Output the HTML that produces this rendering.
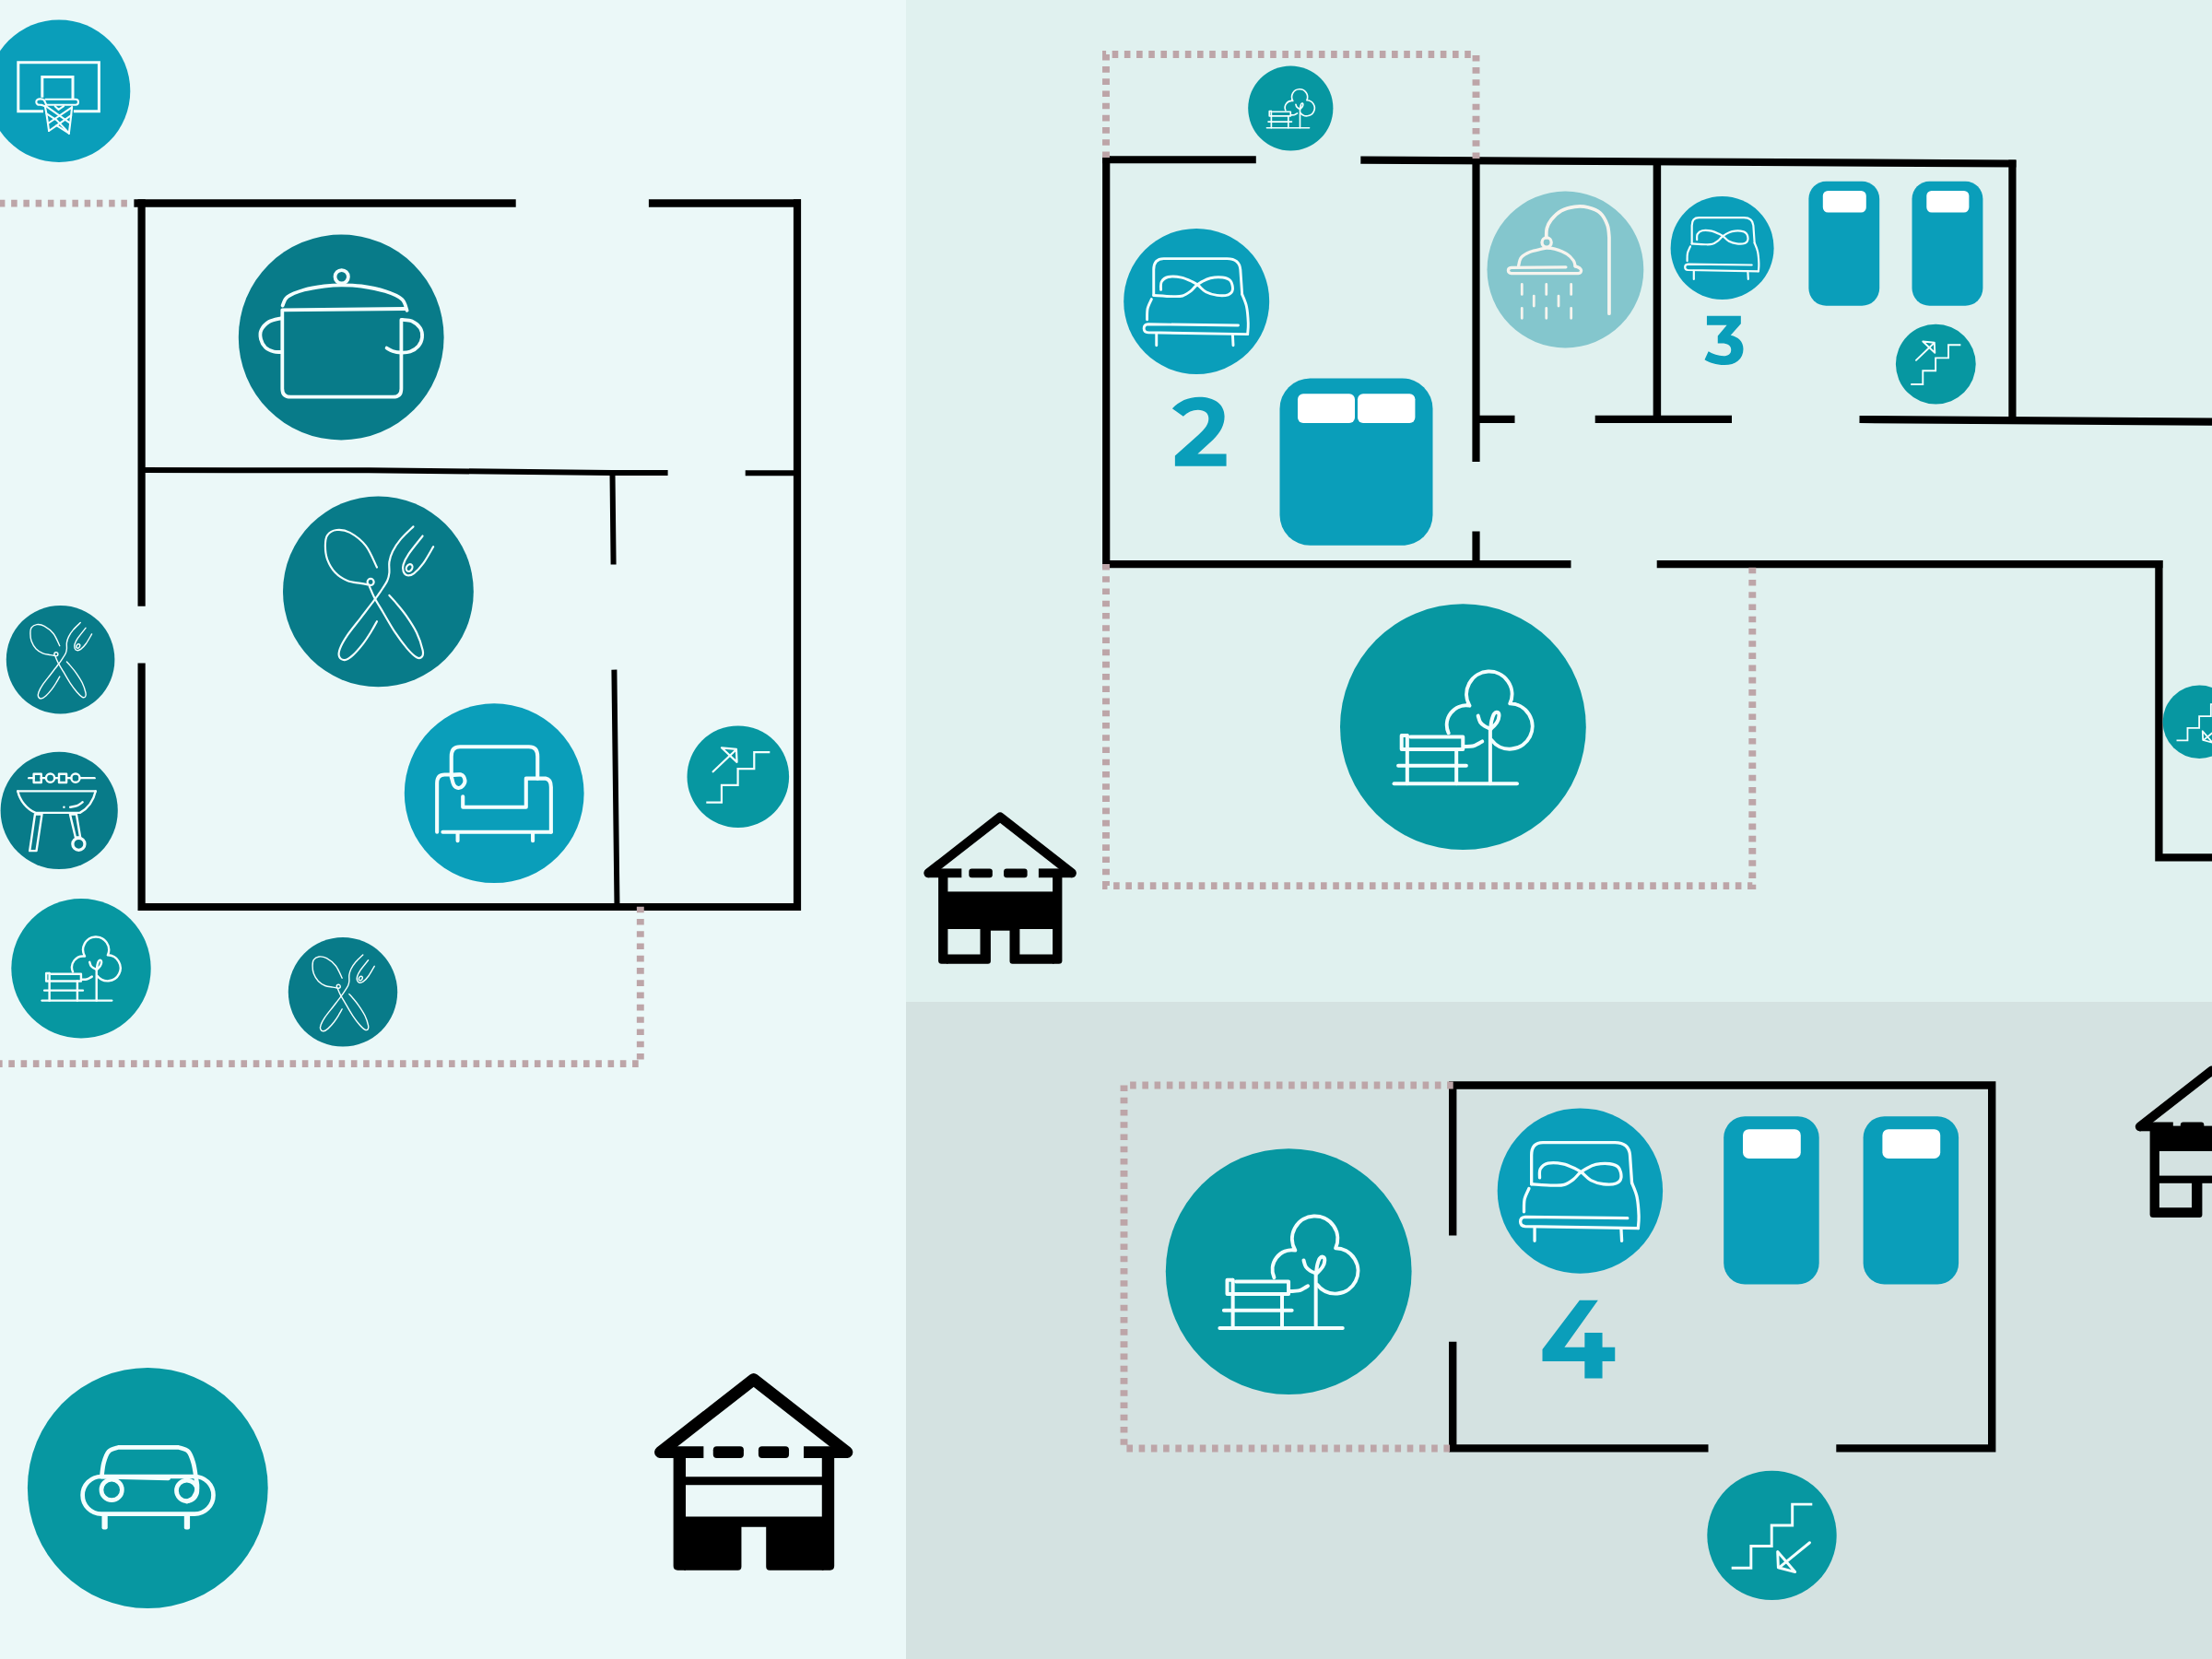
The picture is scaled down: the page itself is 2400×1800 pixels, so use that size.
<!DOCTYPE html>
<html><head><meta charset="utf-8"><title>Floor plan</title>
<style>html,body{margin:0;padding:0;background:#ebf8f8;font-family:"Liberation Sans",sans-serif}svg{display:block}</style>
</head><body>
<svg width="2400" height="1800" viewBox="0 0 2400 1800">
<rect width="2400" height="1800" fill="#ebf8f8"/>
<rect x="983" y="0" width="1417" height="1087" fill="#e0f1ef"/>
<rect x="983" y="1087" width="1417" height="713" fill="#d4e2e1"/>
<path d="M145.4 220.5H559.7M703.9 220.5H869" fill="none" stroke="#000" stroke-width="8.5"/>
<path d="M153.6 216.2V657.8M153.6 719.5V988M865 216.2V988M149.5 984H869.1" fill="none" stroke="#000" stroke-width="8.2"/>
<path d="M153.6 510.1L400 510.3L663.5 512.9L724.6 513.1M808.7 513.2H861" fill="none" stroke="#000" stroke-width="6"/>
<path d="M664.5 513L665.6 612.5M666.4 726.6L669.5 984" fill="none" stroke="#000" stroke-width="6"/>
<path d="M1196.2 173.2H1362.8" fill="none" stroke="#000" stroke-width="7.9"/>
<path d="M1476.3 173.6L2187.4 177.5" fill="none" stroke="#000" stroke-width="8.2"/>
<path d="M1200.2 169.4V616.2M1196.2 612.2H1704.5M1797.7 612.2H2346.5M1601.5 173V500.9M1601.5 576.4V612" fill="none" stroke="#000" stroke-width="8.2"/>
<path d="M1598 454.9H1643.5M1730.7 454.9H1879" fill="none" stroke="#000" stroke-width="8.2"/>
<path d="M1797.9 173V454.9" fill="none" stroke="#000" stroke-width="8.5"/>
<path d="M2183.4 173.4V456.5M2017.5 455L2400 457.6" fill="none" stroke="#000" stroke-width="8.2"/>
<path d="M2342.4 608V934.5M2338.3 930.3H2400" fill="none" stroke="#000" stroke-width="8.3"/>
<path d="M1572 1177.5H2165.4M1576.2 1177.5V1340.5M1576.2 1455.8V1575.5M1572 1571.4H1853.5M1992.3 1571.4H2165.4M2161.2 1173.5V1575.5" fill="none" stroke="#000" stroke-width="8.4"/>
<path d="M137.9 220.6H-10" fill="none" stroke="#bda5a8" stroke-width="7.9" stroke-dasharray="6.5 6.75" stroke-dashoffset="0" stroke-linejoin="miter"/>
<path d="M694.8 983.7V1154.1H-10" fill="none" stroke="#bda5a8" stroke-width="7.9" stroke-dasharray="6.6 6.67" stroke-dashoffset="0" stroke-linejoin="miter"/>
<path d="M1601.5 172V59H1200V173" fill="none" stroke="#bda5a8" stroke-width="7.9" stroke-dasharray="6.6 6.59" stroke-dashoffset="0" stroke-linejoin="miter"/>
<path d="M1200 612V961.1H1901.3V612" fill="none" stroke="#bda5a8" stroke-width="7.9" stroke-dasharray="6.6 6.63" stroke-dashoffset="0" stroke-linejoin="miter"/>
<path d="M1576.7 1177.5H1219.5V1571.5H1576.7" fill="none" stroke="#bda5a8" stroke-width="7.9" stroke-dasharray="6.6 6.63" stroke-dashoffset="0" stroke-linejoin="miter"/>
<rect x="1388.5" y="410.5" width="166" height="181.3" rx="33" fill="#0a9eba"/><rect x="1408" y="427.2" width="62" height="31.7" rx="6" fill="#fff"/><rect x="1473" y="427.2" width="62.4" height="31.7" rx="6" fill="#fff"/>
<rect x="1962.4" y="196.7" width="76.8" height="135.1" rx="19" fill="#0a9eba"/><rect x="1977.8" y="207" width="47" height="23.5" rx="5.5" fill="#fff"/>
<rect x="2074.5" y="196.7" width="76.9" height="135.1" rx="19" fill="#0a9eba"/><rect x="2090.3" y="207" width="46.1" height="23.5" rx="5.5" fill="#fff"/>
<rect x="1870.2" y="1211.2" width="103.5" height="182.2" rx="23" fill="#0a9eba"/><rect x="1891" y="1225.2" width="62.8" height="31.7" rx="6.5" fill="#fff"/>
<rect x="2021.6" y="1211.2" width="103.5" height="182.2" rx="23" fill="#0a9eba"/><rect x="2042.4" y="1225.2" width="62.8" height="31.7" rx="6.5" fill="#fff"/>
<path transform="translate(1250 410) scale(0.06631)" fill="#0a9eba" d="M375 1445H1215V1245H745L1000 1010C1120 895 1185 770 1185 630C1185 430 1020 312 770 312C590 312 440 385 330 500L510 630C580 560 660 525 750 525C860 525 925 580 925 665C925 760 870 830 760 930L375 1275Z"/>
<path transform="translate(1830 330) scale(0.04822)" fill="#0a9eba" d="M455 265H1220V440L990 700C1160 735 1275 840 1275 1010C1275 1230 1100 1370 850 1370C660 1370 510 1315 405 1250L490 1065C590 1130 710 1165 830 1165C940 1165 1000 1115 1000 1025C1000 930 920 882 790 882H700V715L905 470H455Z"/>
<path transform="translate(1650 1390) scale(0.07836)" fill="#0a9eba" d="M815 265H1070L605 915H885V715H1130V915H1305V1110H1130V1345H885V1110H300V945Z"/>
<g transform="translate(64 98.7) scale(0.7730)"><circle r="100" fill="#0a9eba"/><g fill="none" stroke="#f4fffe" stroke-width="3.88" stroke-linecap="butt" stroke-linejoin="miter"><path d="M-21.99 28.59L-57.18 28.59L-57.18 -40.1L56.14 -40.1L56.14 28.59L20.57 28.59"/><path d="M-23.54 9.18L-23.54 -19.66L19.4 -19.66L19.4 11.51"/><g stroke-width="2.72" stroke-linecap="round" stroke-linejoin="round"><path d="M-18.76 11.77L23.29 11.77Q27.17 11.77 27.17 15.65Q27.17 19.53 23.29 19.53L-17.85 19.53"/><path d="M-17.85 19.53C-18.41 18.41 -19.88 14.19 -21.22 12.81C-22.55 11.43 -24.36 11.34 -25.87 11.25C-27.38 11.17 -29.26 11.54 -30.27 12.29C-31.29 13.04 -32.04 14.64 -31.95 15.78C-31.87 16.93 -30.98 18.5 -29.75 19.15C-28.53 19.79 -26.26 19.3 -24.58 19.66C-22.9 20.03 -20.48 21.07 -19.66 21.35"/></g><g stroke-width="2.72" stroke-linecap="round" stroke-linejoin="round"><path d="M-19.66 20.83C-19.19 23.57 -17.74 31.39 -16.82 37.26C-15.89 43.12 -14.55 52.89 -14.1 56.02"/><path d="M18.24 22.38C17.94 25.27 17.14 33.48 16.43 39.72C15.72 45.95 14.38 56.43 13.97 59.77"/><path d="M-14.1 56.02L-3.23 48.51L13.97 59.51"/><path d="M-17.85 21.6L15.27 44.76"/><path d="M17.72 23.29L-15.52 45.67"/><path d="M-17.34 31.95L-3.23 41.01L13.97 59.25"/><path d="M17.08 34.28L-3.23 48.51"/><path d="M-5.56 21.35L-0.52 26.13L6.6 21.35"/></g></g></g>
<g transform="translate(370.2 366) scale(1.1140)"><circle r="100" fill="#087b89"/><g fill="none" stroke="#f4fffe" stroke-width="3.41" stroke-linecap="round" stroke-linejoin="round"><circle cx="0.45" cy="-58.98" r="6.46"/><path d="M-57.09 -30.97C-56.28 -32.39 -55.75 -36.95 -52.24 -39.5C-48.74 -42.04 -42.07 -44.51 -36.09 -46.23C-30.1 -47.95 -22.43 -49.04 -16.34 -49.82C-10.25 -50.6 -5.54 -50.9 0.45 -50.9C6.43 -50.9 12.49 -50.82 19.57 -49.82C26.65 -48.82 36.33 -46.99 42.91 -44.88C49.49 -42.77 55.54 -40.28 59.07 -37.16C62.6 -34.05 63.26 -28.04 64.09 -26.21"/><path d="M62.21 -27.83L-57.36 -26.66L-57.36 50Q-57.36 58.08 -49.28 58.08L50.45 58.08Q58.53 58.08 58.53 50L58.53 -17.06"/><path d="M-58.71 -18.58C-60.62 -18.03 -67.01 -17.16 -70.2 -15.26C-73.38 -13.36 -76.48 -10.02 -77.83 -7.18C-79.17 -4.34 -78.95 -1.05 -78.28 1.8C-77.6 4.64 -75.88 7.85 -73.79 9.87C-71.69 11.89 -68.22 13.17 -65.71 13.91C-63.2 14.66 -59.87 14.29 -58.71 14.36"/><path d="M59.52 -17.06C61.09 -16.83 66.02 -17.06 68.94 -15.71C71.86 -14.36 75.37 -11.59 77.02 -8.98C78.67 -6.36 79.11 -2.92 78.82 0C78.52 2.92 77.17 6.21 75.22 8.53C73.28 10.85 69.99 12.87 67.15 13.91C64.3 14.96 61.01 14.89 58.17 14.81C55.33 14.74 52.39 14.2 50.09 13.46C47.79 12.73 45.3 10.92 44.34 10.41"/></g></g>
<g transform="translate(410.4 641.9) scale(1.0340)"><circle r="100" fill="#087b89"/><g fill="none" stroke="#f4fffe" stroke-width="2.1" stroke-linecap="round" stroke-linejoin="round"><path d="M-1.4 -25.5C-3.32 -29.23 -8.18 -41.83 -12.9 -47.9C-17.62 -53.97 -24.57 -59.1 -29.7 -61.9C-34.83 -64.7 -39.73 -65.17 -43.7 -64.7C-47.67 -64.23 -51.52 -61.9 -53.5 -59.1C-55.48 -56.3 -55.6 -52.1 -55.6 -47.9C-55.6 -43.7 -55.25 -38.57 -53.5 -33.9C-51.75 -29.23 -48.6 -23.63 -45.1 -19.9C-41.6 -16.17 -36.93 -13.37 -32.5 -11.5C-28.07 -9.63 -22.12 -9.4 -18.5 -8.7C-14.88 -8 -12.08 -7.53 -10.8 -7.3"/><circle cx="-8" cy="-10.1" r="3.4"/><path d="M-9.4 -5.9C-8.58 -4.03 -6.95 0.63 -4.5 5.3C-2.05 9.97 1.57 15.8 5.3 22.1C9.03 28.4 13.7 36.8 17.9 43.1C22.1 49.4 26.77 55.58 30.5 59.9C34.23 64.22 37.73 67.6 40.3 69C42.87 70.4 44.85 69.58 45.9 68.3C46.95 67.02 47.53 65.5 46.6 61.3C45.67 57.1 43.22 49.17 40.3 43.1C37.38 37.03 32.83 30.27 29.1 24.9C25.37 19.53 20.82 14.4 17.9 10.9C14.98 7.4 12.65 5.07 11.6 3.9"/><path d="M36.8 -68.2C34.58 -65.98 27.12 -59.22 23.5 -54.9C19.88 -50.58 17.08 -46.27 15.1 -42.3C13.12 -38.33 12.18 -34.83 11.6 -31.1C11.02 -27.37 11.95 -23.17 11.6 -19.9C11.25 -16.63 11.02 -14.77 9.5 -11.5C7.98 -8.23 4.83 -3.8 2.5 -0.3C0.17 3.2 -1 4.83 -4.5 9.5C-8 14.17 -13.83 21.63 -18.5 27.7C-23.17 33.77 -28.88 40.53 -32.5 45.9C-36.12 51.27 -38.8 56.17 -40.2 59.9C-41.6 63.63 -41.72 66.32 -40.9 68.3C-40.08 70.28 -37.63 72.03 -35.3 71.8C-32.97 71.57 -30.17 69.82 -26.9 66.9C-23.63 63.98 -18.97 58.5 -15.7 54.3C-12.43 50.1 -9.68 45.55 -7.3 41.7C-4.92 37.85 -2.38 32.95 -1.4 31.2"/><path d="M46.6 -58.4C44.15 -55.25 35.28 -44.52 31.9 -39.5C28.52 -34.48 27.23 -31.33 26.3 -28.3C25.37 -25.27 25.6 -23.17 26.3 -21.3C27 -19.43 28.63 -17.45 30.5 -17.1C32.37 -16.75 34.7 -17.1 37.5 -19.2C40.3 -21.3 43.92 -25.03 47.3 -29.7C50.68 -34.37 56.05 -44.28 57.8 -47.2"/><ellipse cx="32.6" cy="-25" rx="3" ry="4" transform="rotate(30 32.6 -25)"/></g></g>
<g transform="translate(65.6 715.7) scale(0.5880)"><circle r="100" fill="#087b89"/><g fill="none" stroke="#f4fffe" stroke-width="2.4" stroke-linecap="round" stroke-linejoin="round"><path d="M-1.4 -25.5C-3.32 -29.23 -8.18 -41.83 -12.9 -47.9C-17.62 -53.97 -24.57 -59.1 -29.7 -61.9C-34.83 -64.7 -39.73 -65.17 -43.7 -64.7C-47.67 -64.23 -51.52 -61.9 -53.5 -59.1C-55.48 -56.3 -55.6 -52.1 -55.6 -47.9C-55.6 -43.7 -55.25 -38.57 -53.5 -33.9C-51.75 -29.23 -48.6 -23.63 -45.1 -19.9C-41.6 -16.17 -36.93 -13.37 -32.5 -11.5C-28.07 -9.63 -22.12 -9.4 -18.5 -8.7C-14.88 -8 -12.08 -7.53 -10.8 -7.3"/><circle cx="-8" cy="-10.1" r="3.4"/><path d="M-9.4 -5.9C-8.58 -4.03 -6.95 0.63 -4.5 5.3C-2.05 9.97 1.57 15.8 5.3 22.1C9.03 28.4 13.7 36.8 17.9 43.1C22.1 49.4 26.77 55.58 30.5 59.9C34.23 64.22 37.73 67.6 40.3 69C42.87 70.4 44.85 69.58 45.9 68.3C46.95 67.02 47.53 65.5 46.6 61.3C45.67 57.1 43.22 49.17 40.3 43.1C37.38 37.03 32.83 30.27 29.1 24.9C25.37 19.53 20.82 14.4 17.9 10.9C14.98 7.4 12.65 5.07 11.6 3.9"/><path d="M36.8 -68.2C34.58 -65.98 27.12 -59.22 23.5 -54.9C19.88 -50.58 17.08 -46.27 15.1 -42.3C13.12 -38.33 12.18 -34.83 11.6 -31.1C11.02 -27.37 11.95 -23.17 11.6 -19.9C11.25 -16.63 11.02 -14.77 9.5 -11.5C7.98 -8.23 4.83 -3.8 2.5 -0.3C0.17 3.2 -1 4.83 -4.5 9.5C-8 14.17 -13.83 21.63 -18.5 27.7C-23.17 33.77 -28.88 40.53 -32.5 45.9C-36.12 51.27 -38.8 56.17 -40.2 59.9C-41.6 63.63 -41.72 66.32 -40.9 68.3C-40.08 70.28 -37.63 72.03 -35.3 71.8C-32.97 71.57 -30.17 69.82 -26.9 66.9C-23.63 63.98 -18.97 58.5 -15.7 54.3C-12.43 50.1 -9.68 45.55 -7.3 41.7C-4.92 37.85 -2.38 32.95 -1.4 31.2"/><path d="M46.6 -58.4C44.15 -55.25 35.28 -44.52 31.9 -39.5C28.52 -34.48 27.23 -31.33 26.3 -28.3C25.37 -25.27 25.6 -23.17 26.3 -21.3C27 -19.43 28.63 -17.45 30.5 -17.1C32.37 -16.75 34.7 -17.1 37.5 -19.2C40.3 -21.3 43.92 -25.03 47.3 -29.7C50.68 -34.37 56.05 -44.28 57.8 -47.2"/><ellipse cx="32.6" cy="-25" rx="3" ry="4" transform="rotate(30 32.6 -25)"/></g></g>
<g transform="translate(372 1076.3) scale(0.5920)"><circle r="100" fill="#087b89"/><g fill="none" stroke="#f4fffe" stroke-width="2.4" stroke-linecap="round" stroke-linejoin="round"><path d="M-1.4 -25.5C-3.32 -29.23 -8.18 -41.83 -12.9 -47.9C-17.62 -53.97 -24.57 -59.1 -29.7 -61.9C-34.83 -64.7 -39.73 -65.17 -43.7 -64.7C-47.67 -64.23 -51.52 -61.9 -53.5 -59.1C-55.48 -56.3 -55.6 -52.1 -55.6 -47.9C-55.6 -43.7 -55.25 -38.57 -53.5 -33.9C-51.75 -29.23 -48.6 -23.63 -45.1 -19.9C-41.6 -16.17 -36.93 -13.37 -32.5 -11.5C-28.07 -9.63 -22.12 -9.4 -18.5 -8.7C-14.88 -8 -12.08 -7.53 -10.8 -7.3"/><circle cx="-8" cy="-10.1" r="3.4"/><path d="M-9.4 -5.9C-8.58 -4.03 -6.95 0.63 -4.5 5.3C-2.05 9.97 1.57 15.8 5.3 22.1C9.03 28.4 13.7 36.8 17.9 43.1C22.1 49.4 26.77 55.58 30.5 59.9C34.23 64.22 37.73 67.6 40.3 69C42.87 70.4 44.85 69.58 45.9 68.3C46.95 67.02 47.53 65.5 46.6 61.3C45.67 57.1 43.22 49.17 40.3 43.1C37.38 37.03 32.83 30.27 29.1 24.9C25.37 19.53 20.82 14.4 17.9 10.9C14.98 7.4 12.65 5.07 11.6 3.9"/><path d="M36.8 -68.2C34.58 -65.98 27.12 -59.22 23.5 -54.9C19.88 -50.58 17.08 -46.27 15.1 -42.3C13.12 -38.33 12.18 -34.83 11.6 -31.1C11.02 -27.37 11.95 -23.17 11.6 -19.9C11.25 -16.63 11.02 -14.77 9.5 -11.5C7.98 -8.23 4.83 -3.8 2.5 -0.3C0.17 3.2 -1 4.83 -4.5 9.5C-8 14.17 -13.83 21.63 -18.5 27.7C-23.17 33.77 -28.88 40.53 -32.5 45.9C-36.12 51.27 -38.8 56.17 -40.2 59.9C-41.6 63.63 -41.72 66.32 -40.9 68.3C-40.08 70.28 -37.63 72.03 -35.3 71.8C-32.97 71.57 -30.17 69.82 -26.9 66.9C-23.63 63.98 -18.97 58.5 -15.7 54.3C-12.43 50.1 -9.68 45.55 -7.3 41.7C-4.92 37.85 -2.38 32.95 -1.4 31.2"/><path d="M46.6 -58.4C44.15 -55.25 35.28 -44.52 31.9 -39.5C28.52 -34.48 27.23 -31.33 26.3 -28.3C25.37 -25.27 25.6 -23.17 26.3 -21.3C27 -19.43 28.63 -17.45 30.5 -17.1C32.37 -16.75 34.7 -17.1 37.5 -19.2C40.3 -21.3 43.92 -25.03 47.3 -29.7C50.68 -34.37 56.05 -44.28 57.8 -47.2"/><ellipse cx="32.6" cy="-25" rx="3" ry="4" transform="rotate(30 32.6 -25)"/></g></g>
<g transform="translate(64.2 879.4) scale(0.6360)"><circle r="100" fill="#087b89"/><g fill="none" stroke="#f4fffe" stroke-width="3.79" stroke-linecap="round" stroke-linejoin="round"><path d="M-51.82 -55.45L-43.33 -55.45"/><path d="M-30.61 -55.45L-22.73 -55.45"/><path d="M-7.58 -55.45L-0.91 -55.45"/><path d="M13.03 -55.45L20.3 -55.45"/><path d="M35.45 -55.45L60.3 -55.45"/><rect x="-43.33" y="-62.42" width="12.73" height="14.55"/><rect x="-0.3" y="-62.42" width="12.73" height="14.55"/><circle cx="-15.15" cy="-55.45" r="7.27"/><circle cx="27.88" cy="-55.45" r="7.27"/><path d="M-70.61 -33.03L62.12 -33.03"/><path d="M-70.61 -33.03C-66.97 -16.97 -55.45 -2.73 -40.3 3.94L35.45 3.94C49.09 -3.94 58.48 -16.97 62.12 -33.03"/><path d="M18.79 -5.76C20.81 -6.16 27.37 -6.77 30.91 -8.18C34.44 -9.6 38.48 -13.23 40 -14.24"/><path d="M8.18 -5.76h0.1"/><path d="M-41.21 6.36L-29.39 6.36L-38.79 68.79L-50.3 68.79Z"/><path d="M18.48 6.36L29.39 6.36L36.06 45.76L27.88 45.76Z"/><circle cx="33.33" cy="57.27" r="10.3" stroke-width="5.15"/></g></g>
<g transform="translate(88 1050.7) scale(0.7570)"><circle r="100" fill="#0797a1"/><g fill="none" stroke="#f4fffe" stroke-width="3.2" stroke-linecap="round" stroke-linejoin="round"><path d="M-56.1 46.1H43.9"/><path d="M-45.6 6.9H-50V18.3H-0.1V8.1H-42.8"/><path d="M-45.4 6.9V46.1M-5.4 18.3V46.1M-52.7 31.6H2.6"/><path d="M22.1 46.1V1.5"/><path d="M22.3 1.5C22.45 0.42 22.72 -2.98 23.2 -5C23.68 -7.02 24.4 -9.47 25.2 -10.6C26 -11.73 27.32 -12.07 28 -11.8C28.68 -11.53 29.37 -10.33 29.3 -9C29.23 -7.67 28.68 -5.57 27.6 -3.8C26.52 -2.03 23.6 0.7 22.8 1.6"/><path d="M12.2 -9.1C12.5 -8.22 13.1 -5.22 14 -3.8C14.9 -2.38 16.27 -1.47 17.6 -0.6C18.93 0.27 21.27 1.07 22 1.4"/><path d="M-11.83 4.87A15.9 15.9 0 0 1 5.32 -17.28A18.5 18.5 0 1 1 38.17 -19A18.5 18.5 0 1 1 23.13 10.63"/><path d="M1.6 16C2.67 15.93 6.18 16 8 15.6C9.82 15.2 11.23 14.23 12.5 13.6C13.77 12.97 15.08 12.1 15.6 11.8"/></g></g>
<g transform="translate(536.2 860.7) scale(0.9740)"><circle r="100" fill="#0a9eba"/><g fill="none" stroke="#f4fffe" stroke-width="4.2" stroke-linecap="round" stroke-linejoin="round"><path d="M-47.7 -17.6V-41.1Q-47.7 -51.8 -38.1 -51.8H38.7Q48.3 -51.8 48.3 -41.1V-16.5H35.5V15.5H-34.9V3.7"/><path d="M-63.7 43.2V-11.2Q-63.7 -20.8 -55.2 -20.8H-37.5"/><path d="M-47.7 -19.7C-45.92 -19.88 -39.52 -21.67 -37 -20.8C-34.48 -19.93 -32.93 -16.58 -32.6 -14.5C-32.27 -12.42 -33.77 -9.73 -35 -8.3C-36.23 -6.87 -38.33 -5.73 -40 -5.9C-41.67 -6.07 -43.77 -7.37 -45 -9.3C-46.23 -11.23 -47 -16.13 -47.4 -17.5"/><path d="M48.3 -16.5H57.3Q63.3 -15.5 63.3 -6.9V43.2"/><path d="M-57.3 43.2H63.3M-40.7 43.2V52.8M43 43.2V52.8"/></g></g>
<g transform="translate(800.8 842.7) scale(0.5530)"><circle r="100" fill="#0797a1"/><g fill="none" stroke="#f4fffe" stroke-width="4" stroke-linecap="round" stroke-linejoin="miter"><path d="M-62.4 50.4H-32.3V16.5H-0.4V-15.4H31.6V-48.1H62.4" stroke-linecap="butt"/><path d="M-49.2 -9.8L-5 -52"/><path d="M-32.3 -56.8L-3.4 -53.8L-2.3 -28.6Z" stroke-linejoin="round"/></g></g>
<g transform="translate(160.3 1614.5) scale(1.3040)"><circle r="100" fill="#0797a1"/><g fill="none" stroke="#f4fffe" stroke-width="3.6" stroke-linecap="round" stroke-linejoin="round"><rect x="-54.2" y="-9.6" width="108.8" height="31.2" rx="15.6"/><path d="M-38.3 -9.6C-38.02 -11.5 -37.57 -17.53 -36.6 -21C-35.63 -24.47 -34.53 -28.27 -32.5 -30.4C-30.47 -32.53 -25.75 -33.23 -24.4 -33.8L25.5 -33.8C26.88 -33.23 31.72 -32.58 33.8 -30.4C35.88 -28.22 36.93 -24.4 38 -20.7C39.07 -17 39.67 -11.65 40.2 -8.2C40.73 -4.75 41.57 -2.7 41.2 0C40.83 2.7 39.45 6.13 38 8C36.55 9.87 33.42 10.67 32.5 11.2"/><path d="M-38.5 -9.4L17.2 -8.2"/><circle cx="-30" cy="1.5" r="8.6"/><circle cx="32.5" cy="2.2" r="8.6"/></g><rect x="-38.2" y="21.6" width="4.8" height="13" rx="1.6" fill="#f4fffe"/><rect x="30.3" y="21.6" width="4.8" height="13" rx="1.6" fill="#f4fffe"/></g>
<g transform="translate(1400.3 117.5) scale(0.4610)"><circle r="100" fill="#0797a1"/><g fill="none" stroke="#f4fffe" stroke-width="3.6" stroke-linecap="round" stroke-linejoin="round"><path d="M-56.1 46.1H43.9"/><path d="M-45.6 6.9H-50V18.3H-0.1V8.1H-42.8"/><path d="M-45.4 6.9V46.1M-5.4 18.3V46.1M-52.7 31.6H2.6"/><path d="M22.1 46.1V1.5"/><path d="M22.3 1.5C22.45 0.42 22.72 -2.98 23.2 -5C23.68 -7.02 24.4 -9.47 25.2 -10.6C26 -11.73 27.32 -12.07 28 -11.8C28.68 -11.53 29.37 -10.33 29.3 -9C29.23 -7.67 28.68 -5.57 27.6 -3.8C26.52 -2.03 23.6 0.7 22.8 1.6"/><path d="M12.2 -9.1C12.5 -8.22 13.1 -5.22 14 -3.8C14.9 -2.38 16.27 -1.47 17.6 -0.6C18.93 0.27 21.27 1.07 22 1.4"/><path d="M-11.83 4.87A15.9 15.9 0 0 1 5.32 -17.28A18.5 18.5 0 1 1 38.17 -19A18.5 18.5 0 1 1 23.13 10.63"/><path d="M1.6 16C2.67 15.93 6.18 16 8 15.6C9.82 15.2 11.23 14.23 12.5 13.6C13.77 12.97 15.08 12.1 15.6 11.8"/></g></g>
<g transform="translate(1298.2 326.9) scale(0.79)"><circle r="100" fill="#0a9eba"/><g fill="none" stroke="#f4fffe" stroke-width="3.7" stroke-linecap="round" stroke-linejoin="round"><path d="M-58.8 -8.2V-43.4Q-58.8 -58.6 -45 -58.6H42Q59 -58.6 60.3 -43.4L62.6 -9.8"/><path d="M62.6 -9.8C63.62 -7 67.3 0.38 68.7 7C70.1 13.62 70.75 23.53 71 29.9C71.25 36.27 70.33 42.65 70.2 45.2"/><path d="M-48.9 -15.9C-48.77 -17.68 -49.77 -23.68 -48.1 -26.6C-46.43 -29.52 -43.48 -32.38 -38.9 -33.4C-34.32 -34.42 -26.2 -33.83 -20.6 -32.7C-15 -31.57 -9.12 -28.38 -5.3 -26.6C-1.48 -24.82 -0.75 -24.3 2.3 -22C5.35 -19.7 8.68 -15.1 13 -12.8C17.32 -10.5 23.12 -8.83 28.2 -8.2C33.28 -7.57 39.93 -7.72 43.5 -9C47.07 -10.28 49.08 -12.72 49.6 -15.9C50.12 -19.08 48.88 -25.3 46.6 -28.1C44.32 -30.9 40.48 -32.07 35.9 -32.7C31.32 -33.33 23.93 -32.92 19.1 -31.9C14.27 -30.88 10.22 -28.38 6.9 -26.6C3.58 -24.82 1.75 -23.37 -0.8 -21.2C-3.35 -19.03 -5.35 -15.88 -8.4 -13.6C-11.45 -11.32 -15.03 -8.65 -19.1 -7.5C-23.17 -6.35 -26.18 -6.58 -32.8 -6.7C-39.42 -6.82 -54.47 -7.95 -58.8 -8.2"/><path d="M-61.8 -2.9C-62.7 -0.73 -66.18 5.4 -67.2 10.1C-68.22 14.8 -67.78 22.77 -67.9 25.3"/><path d="M57.3 33L-66.4 31.5Q-72.4 32 -72.2 37.4Q-72 42.6 -66.4 42.9L70.2 45.2"/><path d="M-55 44.4V60.5M49.6 45.2L50.4 60.5"/></g></g>
<g transform="translate(1698.4 292.5) scale(0.8490)"><circle r="100" fill="#84c6cd"/><g fill="none" stroke="#f6f4ee" stroke-linecap="round" stroke-linejoin="round"><path stroke-width="4.4" d="M56 56.1V-41.2C55.63 -43.8 55.7 -51.6 53.8 -56.8C51.9 -62 48.73 -68.62 44.6 -72.4C40.47 -76.18 34.45 -78.18 29 -79.5C23.55 -80.82 17.58 -81 11.9 -80.3C6.22 -79.6 -0.13 -78.03 -5.1 -75.3C-10.07 -72.57 -14.82 -67.68 -17.9 -63.9C-20.98 -60.12 -22.53 -56.38 -23.6 -52.6C-24.67 -48.82 -24.18 -43.1 -24.3 -41.2"/><g stroke-width="3.9"><circle cx="-23.9" cy="-34.8" r="6"/><path d="M-59.8 -5C-59.22 -6.77 -58.78 -12.65 -56.3 -15.6C-53.82 -18.55 -49.17 -20.92 -44.9 -22.7C-40.63 -24.48 -34.2 -25.47 -30.7 -26.3C-27.2 -27.13 -26.75 -27.7 -23.9 -27.7C-21.05 -27.7 -17.92 -27.6 -13.6 -26.3C-9.28 -25 -2.02 -22.38 2 -19.9C6.02 -17.42 8.73 -14 10.5 -11.4C12.27 -8.8 12.25 -5.48 12.6 -4.3"/><path d="M0.6 -3.2L-69 -2.6Q-73.2 -2.2 -73 1.2Q-72.8 4.6 -69 4.8H16.6Q20.4 4.6 20.2 1Q19.6 -2.6 12.6 -4.3"/></g><g stroke-width="3.3"><path d="M-55.5 18.8V31.7M-55.5 49.3V62.2"/><path d="M-24.3 18.8V31.7M-24.3 49.3V62.2"/><path d="M7.4 18.8V31.7M7.4 49.3V62.2"/><path d="M-40.2 33.7V46.6"/><path d="M-8.7 33.7V46.6"/></g></g></g>
<g transform="translate(1868.6 269) scale(0.5600)"><circle r="100" fill="#0a9eba"/><g fill="none" stroke="#f4fffe" stroke-width="3.9" stroke-linecap="round" stroke-linejoin="round"><path d="M-58.8 -8.2V-43.4Q-58.8 -58.6 -45 -58.6H42Q59 -58.6 60.3 -43.4L62.6 -9.8"/><path d="M62.6 -9.8C63.62 -7 67.3 0.38 68.7 7C70.1 13.62 70.75 23.53 71 29.9C71.25 36.27 70.33 42.65 70.2 45.2"/><path d="M-48.9 -15.9C-48.77 -17.68 -49.77 -23.68 -48.1 -26.6C-46.43 -29.52 -43.48 -32.38 -38.9 -33.4C-34.32 -34.42 -26.2 -33.83 -20.6 -32.7C-15 -31.57 -9.12 -28.38 -5.3 -26.6C-1.48 -24.82 -0.75 -24.3 2.3 -22C5.35 -19.7 8.68 -15.1 13 -12.8C17.32 -10.5 23.12 -8.83 28.2 -8.2C33.28 -7.57 39.93 -7.72 43.5 -9C47.07 -10.28 49.08 -12.72 49.6 -15.9C50.12 -19.08 48.88 -25.3 46.6 -28.1C44.32 -30.9 40.48 -32.07 35.9 -32.7C31.32 -33.33 23.93 -32.92 19.1 -31.9C14.27 -30.88 10.22 -28.38 6.9 -26.6C3.58 -24.82 1.75 -23.37 -0.8 -21.2C-3.35 -19.03 -5.35 -15.88 -8.4 -13.6C-11.45 -11.32 -15.03 -8.65 -19.1 -7.5C-23.17 -6.35 -26.18 -6.58 -32.8 -6.7C-39.42 -6.82 -54.47 -7.95 -58.8 -8.2"/><path d="M-61.8 -2.9C-62.7 -0.73 -66.18 5.4 -67.2 10.1C-68.22 14.8 -67.78 22.77 -67.9 25.3"/><path d="M57.3 33L-66.4 31.5Q-72.4 32 -72.2 37.4Q-72 42.6 -66.4 42.9L70.2 45.2"/><path d="M-55 44.4V60.5M49.6 45.2L50.4 60.5"/></g></g>
<g transform="translate(2100.3 395.1) scale(0.4340)"><circle r="100" fill="#0797a1"/><g fill="none" stroke="#f4fffe" stroke-width="4.4" stroke-linecap="round" stroke-linejoin="miter"><path d="M-62.4 50.4H-32.3V16.5H-0.4V-15.4H31.6V-48.1H62.4" stroke-linecap="butt"/><path d="M-49.2 -9.8L-5 -52"/><path d="M-32.3 -56.8L-3.4 -53.8L-2.3 -28.6Z" stroke-linejoin="round"/></g></g>
<g transform="translate(1587.4 788.7) scale(1.3340)"><circle r="100" fill="#0797a1"/><g fill="none" stroke="#f4fffe" stroke-width="3" stroke-linecap="round" stroke-linejoin="round"><path d="M-56.1 46.1H43.9"/><path d="M-45.6 6.9H-50V18.3H-0.1V8.1H-42.8"/><path d="M-45.4 6.9V46.1M-5.4 18.3V46.1M-52.7 31.6H2.6"/><path d="M22.1 46.1V1.5"/><path d="M22.3 1.5C22.45 0.42 22.72 -2.98 23.2 -5C23.68 -7.02 24.4 -9.47 25.2 -10.6C26 -11.73 27.32 -12.07 28 -11.8C28.68 -11.53 29.37 -10.33 29.3 -9C29.23 -7.67 28.68 -5.57 27.6 -3.8C26.52 -2.03 23.6 0.7 22.8 1.6"/><path d="M12.2 -9.1C12.5 -8.22 13.1 -5.22 14 -3.8C14.9 -2.38 16.27 -1.47 17.6 -0.6C18.93 0.27 21.27 1.07 22 1.4"/><path d="M-11.83 4.87A15.9 15.9 0 0 1 5.32 -17.28A18.5 18.5 0 1 1 38.17 -19A18.5 18.5 0 1 1 23.13 10.63"/><path d="M1.6 16C2.67 15.93 6.18 16 8 15.6C9.82 15.2 11.23 14.23 12.5 13.6C13.77 12.97 15.08 12.1 15.6 11.8"/></g></g>
<g transform="translate(2386.3 783.3) scale(0.3970)"><circle r="100" fill="#0797a1"/><g fill="none" stroke="#f4fffe" stroke-width="4.6" stroke-linecap="round" stroke-linejoin="miter"><path d="M-62.4 50.4H-32.3V16.5H-0.4V-15.4H31.6V-48.1H62.4" stroke-linecap="butt"/><path d="M58.4 11.2L11.5 49.4"/><path d="M8.8 25.1L9.8 49.6L35.8 56.5Z" stroke-linejoin="round"/></g></g>
<g transform="translate(1398.2 1379.6) scale(1.3340)"><circle r="100" fill="#0797a1"/><g fill="none" stroke="#f4fffe" stroke-width="3" stroke-linecap="round" stroke-linejoin="round"><path d="M-56.1 46.1H43.9"/><path d="M-45.6 6.9H-50V18.3H-0.1V8.1H-42.8"/><path d="M-45.4 6.9V46.1M-5.4 18.3V46.1M-52.7 31.6H2.6"/><path d="M22.1 46.1V1.5"/><path d="M22.3 1.5C22.45 0.42 22.72 -2.98 23.2 -5C23.68 -7.02 24.4 -9.47 25.2 -10.6C26 -11.73 27.32 -12.07 28 -11.8C28.68 -11.53 29.37 -10.33 29.3 -9C29.23 -7.67 28.68 -5.57 27.6 -3.8C26.52 -2.03 23.6 0.7 22.8 1.6"/><path d="M12.2 -9.1C12.5 -8.22 13.1 -5.22 14 -3.8C14.9 -2.38 16.27 -1.47 17.6 -0.6C18.93 0.27 21.27 1.07 22 1.4"/><path d="M-11.83 4.87A15.9 15.9 0 0 1 5.32 -17.28A18.5 18.5 0 1 1 38.17 -19A18.5 18.5 0 1 1 23.13 10.63"/><path d="M1.6 16C2.67 15.93 6.18 16 8 15.6C9.82 15.2 11.23 14.23 12.5 13.6C13.77 12.97 15.08 12.1 15.6 11.8"/></g></g>
<g transform="translate(1714.4 1292.1) scale(0.8970)"><circle r="100" fill="#0a9eba"/><g fill="none" stroke="#f4fffe" stroke-width="3.7" stroke-linecap="round" stroke-linejoin="round"><path d="M-58.8 -8.2V-43.4Q-58.8 -58.6 -45 -58.6H42Q59 -58.6 60.3 -43.4L62.6 -9.8"/><path d="M62.6 -9.8C63.62 -7 67.3 0.38 68.7 7C70.1 13.62 70.75 23.53 71 29.9C71.25 36.27 70.33 42.65 70.2 45.2"/><path d="M-48.9 -15.9C-48.77 -17.68 -49.77 -23.68 -48.1 -26.6C-46.43 -29.52 -43.48 -32.38 -38.9 -33.4C-34.32 -34.42 -26.2 -33.83 -20.6 -32.7C-15 -31.57 -9.12 -28.38 -5.3 -26.6C-1.48 -24.82 -0.75 -24.3 2.3 -22C5.35 -19.7 8.68 -15.1 13 -12.8C17.32 -10.5 23.12 -8.83 28.2 -8.2C33.28 -7.57 39.93 -7.72 43.5 -9C47.07 -10.28 49.08 -12.72 49.6 -15.9C50.12 -19.08 48.88 -25.3 46.6 -28.1C44.32 -30.9 40.48 -32.07 35.9 -32.7C31.32 -33.33 23.93 -32.92 19.1 -31.9C14.27 -30.88 10.22 -28.38 6.9 -26.6C3.58 -24.82 1.75 -23.37 -0.8 -21.2C-3.35 -19.03 -5.35 -15.88 -8.4 -13.6C-11.45 -11.32 -15.03 -8.65 -19.1 -7.5C-23.17 -6.35 -26.18 -6.58 -32.8 -6.7C-39.42 -6.82 -54.47 -7.95 -58.8 -8.2"/><path d="M-61.8 -2.9C-62.7 -0.73 -66.18 5.4 -67.2 10.1C-68.22 14.8 -67.78 22.77 -67.9 25.3"/><path d="M57.3 33L-66.4 31.5Q-72.4 32 -72.2 37.4Q-72 42.6 -66.4 42.9L70.2 45.2"/><path d="M-55 44.4V60.5M49.6 45.2L50.4 60.5"/></g></g>
<g transform="translate(1922.5 1665.9) scale(0.7020)"><circle r="100" fill="#0797a1"/><g fill="none" stroke="#f4fffe" stroke-width="4.2" stroke-linecap="round" stroke-linejoin="miter"><path d="M-62.4 50.4H-32.3V16.5H-0.4V-15.4H31.6V-48.1H62.4" stroke-linecap="butt"/><path d="M58.4 11.2L11.5 49.4"/><path d="M8.8 25.1L9.8 49.6L35.8 56.5Z" stroke-linejoin="round"/></g></g>
<g transform="translate(817.7 1488.8) scale(1.2997)" fill="#000"><path d="M-77.8 66.8L0 6L77.8 66.8" fill="none" stroke="#000" stroke-width="10" stroke-linecap="round" stroke-linejoin="round"/><rect x="-78" y="61.9" width="36.2" height="9.8"/><rect x="41.8" y="61.9" width="36.2" height="9.8"/><rect x="-33.8" y="61.9" width="25.5" height="9.8" rx="3"/><rect x="4" y="61.9" width="25.5" height="9.8" rx="3"/><path d="M-67 66.8H-56.7V165.3H-63.5Q-67 165.3 -67 161.8Z"/><path d="M67.3 66.8H57V165.3H63.8Q67.3 165.3 67.3 161.8Z"/><rect x="-58" y="87.3" width="116.3" height="6.9"/><path d="M-58 120.6H58.3V165.3H13.4Q10.4 165.3 10.4 162.3V129.3H-10.2V162.3Q-10.2 165.3 -13.2 165.3H-58Z"/></g>
<g transform="translate(1085.1 880.5) scale(1.0000)" fill="#000"><path d="M-77.8 66.8L0 6L77.8 66.8" fill="none" stroke="#000" stroke-width="10" stroke-linecap="round" stroke-linejoin="round"/><rect x="-78" y="61.9" width="36.2" height="9.8"/><rect x="41.8" y="61.9" width="36.2" height="9.8"/><rect x="-33.8" y="61.9" width="25.5" height="9.8" rx="3"/><rect x="4" y="61.9" width="25.5" height="9.8" rx="3"/><path d="M-67 66.8H-56.7V165.3H-63.5Q-67 165.3 -67 161.8Z"/><path d="M67.3 66.8H57V165.3H63.8Q67.3 165.3 67.3 161.8Z"/><rect x="-58" y="86.9" width="116.3" height="40.6"/><path d="M-58 155H-21.6V127H-10.2V162.3Q-10.2 165.3 -13.2 165.3H-58Z"/><path d="M58.3 155H21.3V127H10.4V162.3Q10.4 165.3 13.4 165.3H58.3Z"/><rect x="-11" y="125" width="22" height="4.2"/></g>
<g transform="translate(2399.6 1155.6) scale(1.0000)" fill="#000"><path d="M-77.8 66.8L0 6L77.8 66.8" fill="none" stroke="#000" stroke-width="10" stroke-linecap="round" stroke-linejoin="round"/><rect x="-78" y="61.9" width="36.2" height="9.8"/><rect x="41.8" y="61.9" width="36.2" height="9.8"/><rect x="-33.8" y="61.9" width="25.5" height="9.8" rx="3"/><rect x="4" y="61.9" width="25.5" height="9.8" rx="3"/><path d="M-67 66.8H-56.7V165.3H-63.5Q-67 165.3 -67 161.8Z"/><path d="M67.3 66.8H57V165.3H63.8Q67.3 165.3 67.3 161.8Z"/><rect x="-58" y="66" width="116.3" height="27.4"/><rect x="-58" y="120" width="116.3" height="8.2"/><path d="M-58 154.6H-21.6V127H-10.2V162.3Q-10.2 165.3 -13.2 165.3H-58Z"/><path d="M58.3 154.6H21.3V127H10.4V162.3Q10.4 165.3 13.4 165.3H58.3Z"/></g>
</svg>
</body></html>
